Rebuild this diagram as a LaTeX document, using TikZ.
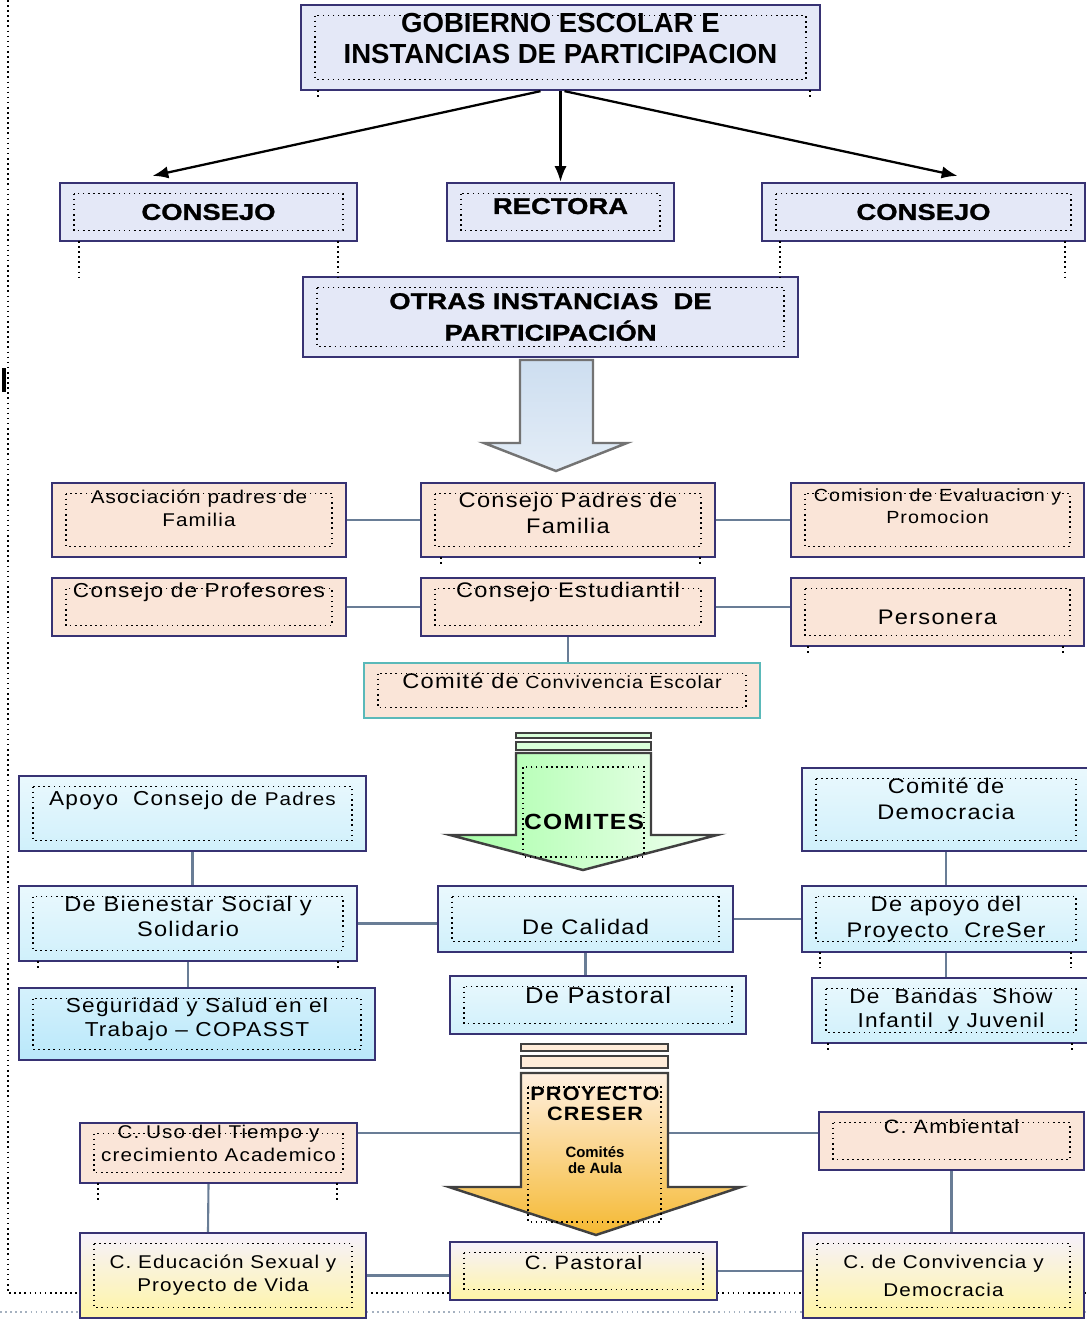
\documentclass[tikz,border=0pt]{standalone}
\usepackage{fontspec}
\setmainfont{Liberation Sans}
\newfontfamily\espaciada[FakeStretch=1.12, LetterSpace=6]{Liberation Sans}
\newfontfamily\ancha[FakeStretch=1.2, BoldFeatures={FakeBold=1.2}]{Liberation Sans}
\usetikzlibrary{arrows.meta,calc}
\newdimen\px \px=0.02cm
\definecolor{borde}{RGB}{55,50,115}
\definecolor{lavanda}{RGB}{228,232,247}
\definecolor{durazno}{RGB}{250,229,216}
\definecolor{celeste}{RGB}{208,240,251}
\definecolor{celestefuerte}{RGB}{185,232,250}
\definecolor{verdoso}{RGB}{90,185,185}
\definecolor{gris}{RGB}{105,125,150}
\definecolor{amarillo}{RGB}{255,245,165}
\definecolor{lila}{RGB}{246,241,252}
\definecolor{azulflecha}{RGB}{205,222,240}
\definecolor{dorado}{RGB}{245,185,50}
\tikzset{
  caja/.style={draw=borde, line width=1.3pt, align=center, inner sep=0pt,
    path picture={\draw[black, dotted, line width=0.9pt]
      ([shift={(8pt,-6pt)}]path picture bounding box.north west) rectangle
      ([shift={(-8pt,6pt)}]path picture bounding box.south east);}},
  medida/.style 2 args={minimum width=#1\px, minimum height=#2\px},
  letra/.style 2 args={font=\espaciada\fontsize{#1}{#2}\selectfont},
  titulo/.style={font=\ancha\bfseries\fontsize{13}{18}\selectfont},
  azul/.style={caja, fill=lavanda},
  durazno/.style={caja, fill=durazno},
  cian/.style={caja, top color=celeste!45!white, bottom color=celeste},
  amarilla/.style={caja, top color=lila, bottom color=amarillo},
  linea/.style={draw=gris, line width=1.2pt},
  flecha/.style={-{Latex[length=9pt,width=7pt]}, line width=1.3pt},
  puntos/.style={black, dotted, line width=0.9pt},
  bloque/.style={draw=black!75, line width=1.4pt}
}
\begin{document}
\begin{tikzpicture}[x=0.02cm, y=-0.02cm]
\useasboundingbox (0,0) rectangle (1086,1325);
\draw[puntos] (8,0) -- (8,1293) -- (1086,1293);
\draw[dotted, gris!60, line width=0.9pt] (0,1312) -- (1086,1312);
\draw[line width=2pt] (4,368) -- (4,392);

\node[azul, medida={519}{85}, text depth=18\px, font=\bfseries\fontsize{15.7}{18}\selectfont] (gob) at (560.5,47.5) {GOBIERNO ESCOLAR E\\INSTANCIAS DE PARTICIPACION};
\node[azul, medida={297}{58}, titulo] (cons1) at (208.5,212) {CONSEJO};
\node[azul, medida={227}{58}, titulo, text depth=12\px] (rect) at (560.5,212) {RECTORA};
\node[azul, medida={323}{58}, titulo] (cons2) at (923.5,212) {CONSEJO};
\node[azul, medida={495}{80}, titulo] (otras) at (550.5,317) {OTRAS INSTANCIAS\ \ DE\\PARTICIPACIÓN};

\node[durazno, medida={294}{74}, letra={10.5}{13}, text depth=24\px] (asoc) at (199,520) {Asociación padres de\\Familia};
\node[durazno, medida={294}{74}, letra={12}{14.5}, text depth=14\px] (cpad) at (568,520) {Consejo Padres de\\Familia};
\node[durazno, medida={293}{74}, letra={10}{12.5}, text depth=28\px] (comi) at (937.5,520) {Comision de Evaluacion y\\Promocion};
\node[durazno, medida={294}{58}, letra={11.5}{14}, text depth=34\px] (cprof) at (199,607) {Consejo de Profesores};
\node[durazno, medida={294}{58}, letra={12}{14}, text depth=34\px] (cest) at (568,607) {Consejo Estudiantil};
\node[durazno, medida={293}{68}, letra={12}{14}, text height=26\px] (pers) at (937.5,612) {Personera};
\node[durazno, draw=verdoso, medida={396}{55}, letra={10}{12}, text depth=20\px] (conv) at (562,690.5) {{\fontsize{12}{14}\selectfont Comité de} Convivencia Escolar};

\node[cian, medida={347}{75}, letra={11.5}{14}, text depth=30\px] (apoyo) at (192.5,813.5) {Apoyo\ \ Consejo de {\fontsize{10.5}{14}\selectfont Padres}};
\node[cian, medida={288}{83}, letra={12}{14.5}, text depth=22\px] (demo) at (946,809.5) {Comité de\\Democracia};
\node[cian, medida={338}{75}, letra={12}{14}, text depth=14\px] (bien) at (188,923.5) {De Bienestar Social y\\Solidario};
\node[cian, medida={295}{66}, letra={12}{14}, text height=32\px] (cal) at (585.5,919) {De Calidad};
\node[cian, medida={288}{66}, letra={12}{14.5}] (dapoyo) at (946,919) {De apoyo del\\Proyecto\ \ CreSer};
\node[cian, medida={296}{58}, letra={13}{15}, text depth=20\px] (pas) at (598,1005) {De Pastoral};
\node[caja, top color=celestefuerte!60!white, bottom color=celestefuerte, medida={356}{72}, letra={11.5}{14}, text depth=14\px] (segu) at (197,1024) {Seguridad y Salud en el\\Trabajo – COPASST};
\node[cian, medida={278}{65}, letra={11.5}{13.5}] (band) at (951,1010.5) {De\ \ Bandas\ \ Show\\Infantil\ \ y Juvenil};

\node[durazno, medida={277}{60}, letra={10.5}{13}, text depth=20\px] (uso) at (218.5,1153) {C. Uso del Tiempo y\\crecimiento Academico};
\node[durazno, medida={265}{58}, letra={11}{13}, text depth=30\px] (amb) at (951.5,1141) {C. Ambiental};
\node[amarilla, medida={286}{85}, letra={10.5}{13}] (edu) at (223,1275.5) {C. Educación Sexual y\\Proyecto de Vida};
\node[amarilla, medida={267}{58}, letra={11}{13}, text depth=18\px] (cpas) at (583.5,1271) {C. Pastoral};
\node[amarilla, medida={281}{85}, letra={10.5}{16}] (cconv) at (943.5,1275.5) {C. de Convivencia y\\Democracia};

\draw[flecha] ($(gob.south)+(-20,0)$) -- ($(cons1.north)+(-56,-6)$);
\draw[flecha] (gob.south) -- (rect.north);
\draw[flecha] ($(gob.south)+(4,0)$) -- ($(cons2.north)+(34,-6)$);
\foreach \x/\a/\b in {79/241/277, 338/241/277, 780/241/277, 1065/241/277, 318/90/100, 810/90/100,
  441/557/565, 700/557/565, 808/646/655, 1063/646/655, 38/961/970, 338/961/970,
  820/952/968, 1071/952/968, 828/1043/1052, 1072/1043/1052, 98/1183/1200, 337/1183/1200}
  \draw[puntos] (\x,\a) -- (\x,\b);

\draw[linea] (asoc) -- (cpad);
\draw[linea] (cpad) -- (comi);
\draw[linea] (cprof) -- (cest);
\draw[linea] (cest.east) -- (cest.east -| pers.west);
\draw[linea] (cest.south) -- (cest.south |- conv.north);
\draw[linea] (apoyo.south) -- (apoyo.south |- bien.north);
\draw[linea] (bien.south) -- (bien.south |- segu.north);
\draw[linea] (bien.east) -- (bien.east -| cal.west);
\draw[linea] (cal) -- (dapoyo);
\draw[linea] (cal.south) -- (cal.south |- pas.north);
\draw[linea] (demo) -- (dapoyo);
\draw[linea] (dapoyo.south) -- (dapoyo.south |- band.north);
\draw[linea] ($(uso.north east)+(0,11)$) -- ($(amb.north west)+(0,22)$);
\draw[linea] ($(uso.south)+(-10,0)$) -- ($(edu.north)+(-15,0)$);
\draw[linea] (amb.south) -- (amb.south |- cconv.north);
\draw[linea] (edu.east) -- (edu.east -| cpas.west);
\draw[linea] (cpas.east) -- (cpas.east -| cconv.west);

\draw[draw=black!55, line width=1.4pt, top color=azulflecha, bottom color=azulflecha!55!white]
  (520,360) -- (593,360) -- (593,443) -- (627,443) -- (556,471) -- (484,443) -- (520,443) -- cycle;

\draw[bloque, fill=green!15] (516,733) rectangle (651,738);
\draw[bloque, fill=green!15] (516,742) rectangle (651,750);
\draw[bloque, left color=green!35, right color=green!5]
  (516,753) -- (651,753) -- (651,835) -- (717,835) -- (583,870) -- (450,835) -- (516,835) -- cycle;
\draw[puntos] (523,767) rectangle (644,857);
\node[font=\espaciada\bfseries\fontsize{12.5}{14}\selectfont] (comites) at (584,822) {COMITES};

\draw[bloque, fill=orange!15] (521,1044) rectangle (668,1051);
\draw[bloque, fill=orange!15] (521,1056) rectangle (668,1068);
\draw[bloque, top color=orange!12, bottom color=dorado]
  (521,1073) -- (668,1073) -- (668,1187) -- (741,1187) -- (596,1235) -- (449,1187) -- (521,1187) -- cycle;
\draw[puntos] (528,1087) rectangle (661,1222);
\node[align=center, font=\espaciada\bfseries\fontsize{11}{11.5}\selectfont] (proy) at (595,1104) {PROYECTO\\CRESER};
\node[align=center, font=\bfseries\fontsize{8.5}{9}\selectfont] (aula) at (595,1160) {Comités\\de Aula};
\end{tikzpicture}
\end{document}
